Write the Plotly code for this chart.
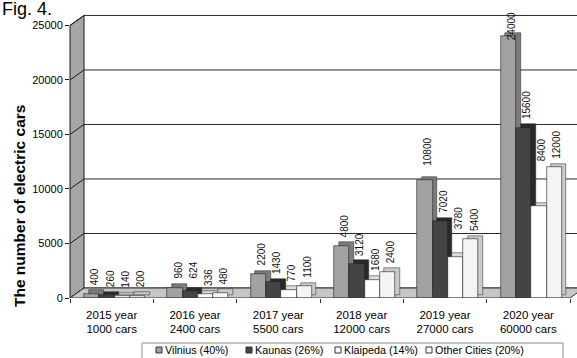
import plotly.graph_objects as go

# ---- data -------------------------------------------------------------
years = ["2015 year", "2016 year", "2017 year", "2018 year", "2019 year", "2020 year"]
fleet = ["1000 cars", "2400 cars", "5500 cars", "12000 cars", "27000 cars", "60000 cars"]
series_names = ["Vilnius (40%)", "Kaunas (26%)", "Klaipeda (14%)", "Other Cities (20%)"]
vilnius = [400, 960, 2200, 4800, 10800, 24000]
kaunas = [260, 624, 1430, 3120, 7020, 15600]
klaipeda = [140, 336, 770, 1680, 3780, 8400]
other_cities = [200, 480, 1100, 2400, 5400, 12000]
y_ticks = [0, 5000, 10000, 15000, 20000, 25000]

series_values = [vilnius, kaunas, klaipeda, other_cities]

# ---- styling ----------------------------------------------------------
FONT = "Arial, Liberation Sans, sans-serif"
front_colors = ["#a2a2a2", "#444444", "#ffffff", "#f4f4f4"]
side_colors = ["#7c7c7c", "#2a2a2a", "#dcdcdc", "#cacaca"]
legend_swatch = ["#a2a2a2", "#444444", "#ffffff", "#ffffff"]

W, H = 577, 358
ML, MR, MT, MB = 70, 0, 14, 60
plot_w = W - ML - MR
plot_h = H - MT - MB
y_top = 26050                       # axis max so 25000 sits near the top
px_per_unit = plot_h / y_top

def paper_x(px):
    return (px - ML) / plot_w

def paper_y(py):
    return (H - MB - py) / plot_h

# pseudo-3D depth of the walls and of each bar
wall_dx_px, wall_dy = 14, 10 / px_per_unit
cat_px = 500 / 6
bar_dx, bar_dy = 4.5 / cat_px, 3.5 / px_per_unit
bar_w = 0.183
bar_offsets = [-0.331 + i * bar_w for i in range(4)]

# extra vertical nudges for a few crowded value labels (px)
label_nudge = {(5, 0): -12, (4, 0): 6, (5, 2): 37, (4, 2): 19, (1, 1): 4}

# legend entry left edges (px) and box
legend_x = [156, 246, 335, 426]
legend_cy = 350

cats = list(range(len(years)))
fig = go.Figure()

# depth faces first, so neighbouring front faces hide them
for s, vals in enumerate(series_values):
    fig.add_trace(go.Bar(
        x=cats, y=vals, base=bar_dy, offset=bar_offsets[s] + bar_dx, width=bar_w,
        marker=dict(color=side_colors[s], line=dict(color="#202020", width=0.5)),
        showlegend=False, hoverinfo="skip"))

for s, vals in enumerate(series_values):
    fig.add_trace(go.Bar(
        x=cats, y=vals, offset=bar_offsets[s], width=bar_w, name=series_names[s],
        marker=dict(color=front_colors[s], line=dict(color="#202020", width=0.6)),
        showlegend=False))

# value labels above each bar
annotations = []
for s, vals in enumerate(series_values):
    for c, v in enumerate(vals):
        annotations.append(dict(
            x=c + bar_offsets[s] + bar_w / 2, y=v + bar_dy, xref="x", yref="y",
            text=str(v), showarrow=False, textangle=-90,
            xanchor="center", yanchor="bottom", xshift=3,
            yshift=3 + label_nudge.get((c, s), 0),
            font=dict(size=10, color="#111111", family=FONT)))

annotations.append(dict(
    x=paper_x(19), y=paper_y(206), xref="paper", yref="paper",
    text="<b>The number of electric cars</b>", textangle=-90, showarrow=False,
    xanchor="center", yanchor="middle", font=dict(size=15.5, color="black", family=FONT)))

annotations.append(dict(
    x=paper_x(0), y=paper_y(9.5), xref="paper", yref="paper", text="Fig. 4.",
    showarrow=False, xanchor="left", yanchor="middle",
    font=dict(size=18, color="black", family=FONT)))

# back wall gridlines, side wall, floor
shapes = []
for v in y_ticks:
    shapes.append(dict(type="line", layer="below", xref="paper", yref="y",
                       x0=paper_x(ML + wall_dx_px), x1=1, y0=v + wall_dy, y1=v + wall_dy,
                       line=dict(color="#2a2a2a", width=1)))
wall_path = (f"M {paper_x(ML)},0 L {paper_x(ML)},{y_ticks[-1]} "
             f"L {paper_x(ML + wall_dx_px)},{y_ticks[-1] + wall_dy} "
             f"L {paper_x(ML + wall_dx_px)},{wall_dy} Z")
shapes.append(dict(type="path", layer="below", xref="paper", yref="y", path=wall_path,
                   fillcolor="#a6a6a6", line=dict(color="#1a1a1a", width=1)))
for v in y_ticks:
    shapes.append(dict(type="line", layer="below", xref="paper", yref="y",
                       x0=paper_x(ML), x1=paper_x(ML + wall_dx_px), y0=v, y1=v + wall_dy,
                       line=dict(color="#1a1a1a", width=1)))
floor_right = ML + 500
floor_path = (f"M {paper_x(ML)},0 L {paper_x(floor_right)},0 "
              f"L {paper_x(floor_right + wall_dx_px)},{wall_dy} "
              f"L {paper_x(ML + wall_dx_px)},{wall_dy} Z")
shapes.append(dict(type="path", layer="below", xref="paper", yref="y", path=floor_path,
                   fillcolor="#c6c6c6", line=dict(color="#333333", width=1)))

# legend: framed box with small swatches
shapes.append(dict(type="rect", xref="paper", yref="paper",
                   x0=paper_x(142), x1=paper_x(563), y0=paper_y(343), y1=paper_y(362),
                   fillcolor="white", line=dict(color="#8c8c8c", width=1)))
for s, name in enumerate(series_names):
    lx = legend_x[s]
    shapes.append(dict(type="rect", xref="paper", yref="paper",
                       x0=paper_x(lx), x1=paper_x(lx + 6),
                       y0=paper_y(legend_cy + 3), y1=paper_y(legend_cy - 3),
                       fillcolor=legend_swatch[s], line=dict(color="#333333", width=1)))
    annotations.append(dict(
        x=paper_x(lx + 7), y=paper_y(legend_cy), xref="paper", yref="paper",
        text=name, showarrow=False, xanchor="left", yanchor="middle",
        font=dict(size=10.8, color="black", family=FONT)))

fig.update_layout(
    width=W, height=H, autosize=False,
    margin=dict(l=ML, r=MR, t=MT, b=MB, pad=0),
    paper_bgcolor="white", plot_bgcolor="rgba(0,0,0,0)",
    barmode="overlay", bargap=0, showlegend=False,
    font=dict(family=FONT, size=11, color="black"),
    shapes=shapes, annotations=annotations,
    xaxis=dict(range=[-0.5, 5.5], domain=[0, 500 / plot_w],
               tickvals=cats, ticktext=[f"{a}<br>{b}" for a, b in zip(years, fleet)],
               ticks="", showgrid=False, zeroline=False, showline=False,
               tickfont=dict(size=11.5), ticklabelstandoff=8,
               minor=dict(tickvals=[c - 0.5 for c in range(len(years) + 1)],
                          ticks="outside", ticklen=4, tickcolor="#333333", showgrid=False)),
    yaxis=dict(range=[0, y_top], tickvals=y_ticks, ticktext=[str(v) for v in y_ticks],
               ticks="outside", ticklen=4,
               tickcolor="#1a1a1a", showgrid=False, zeroline=False, showline=False,
               tickfont=dict(size=11)),
)

fig.write_html("out.html")
